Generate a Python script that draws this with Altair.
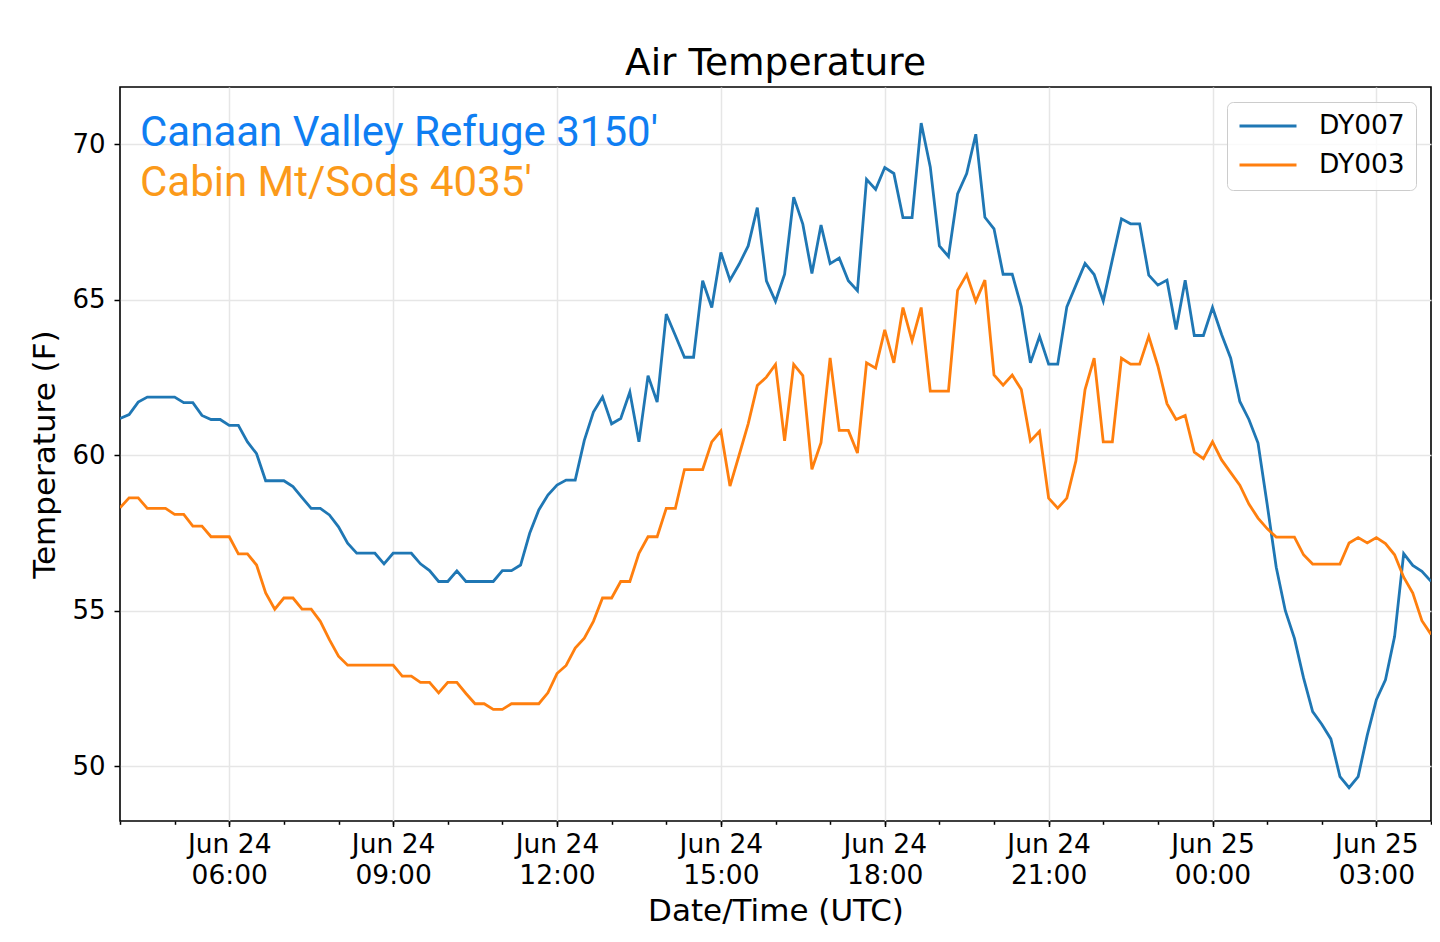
import altair as alt
import pandas as pd

# ---- data ----
START = "2019-06-24T04:00:00Z"
STEP = "10min"

dy007 = [
    61.18, 61.31, 61.71, 61.87, 61.87, 61.87, 61.87, 61.69, 61.69, 61.28,
    61.15, 61.15, 60.96, 60.96, 60.43, 60.05, 59.18, 59.18, 59.18, 58.99,
    58.64, 58.29, 58.29, 58.08, 57.70, 57.17, 56.85, 56.85, 56.85, 56.51,
    56.85, 56.85, 56.85, 56.51, 56.29, 55.94, 55.94, 56.28, 55.94, 55.94,
    55.94, 55.94, 56.29, 56.29, 56.47, 57.49, 58.24, 58.72, 59.04, 59.20,
    59.20, 60.48, 61.39, 61.87, 61.01, 61.18, 62.03, 60.43, 62.56, 61.71,
    64.54, 63.85, 63.15, 63.15, 65.61, 64.75, 66.52, 65.63, 66.14, 66.73,
    67.96, 65.61, 64.95, 65.82, 68.30, 67.43, 65.84, 67.40, 66.16, 66.34,
    65.61, 65.29, 68.87, 68.55, 69.25, 69.06, 67.64, 67.64, 70.68, 69.27,
    66.73, 66.39, 68.40, 69.06, 70.32, 67.65, 67.28, 65.82, 65.82, 64.77,
    62.97, 63.82, 62.93, 62.93, 64.77, 65.47, 66.17, 65.81, 64.96, 66.29,
    67.60, 67.44, 67.44, 65.79, 65.47, 65.63, 64.04, 65.63, 63.85, 63.85,
    64.75, 63.88, 63.12, 61.73, 61.15, 60.39, 58.43, 56.40, 55.00, 54.11,
    52.84, 51.76, 51.35, 50.88, 49.67, 49.31, 49.67, 51.00, 52.14, 52.78,
    54.17, 56.84, 56.46, 56.27, 55.95,
]

dy003 = [
    58.31, 58.63, 58.63, 58.29, 58.29, 58.29, 58.10, 58.10, 57.72, 57.72,
    57.38, 57.38, 57.38, 56.83, 56.83, 56.47, 55.57, 55.05, 55.41, 55.41,
    55.05, 55.05, 54.66, 54.07, 53.54, 53.25, 53.25, 53.25, 53.25, 53.25,
    53.25, 52.90, 52.90, 52.70, 52.70, 52.36, 52.70, 52.70, 52.34, 52.01,
    52.01, 51.83, 51.83, 52.01, 52.01, 52.01, 52.01, 52.36, 52.98, 53.24,
    53.80, 54.12, 54.66, 55.41, 55.41, 55.94, 55.94, 56.85, 57.38, 57.38,
    58.29, 58.29, 59.54, 59.54, 59.54, 60.43, 60.78, 59.01, 60.00, 61.01,
    62.24, 62.51, 62.92, 60.46, 62.92, 62.56, 59.55, 60.40, 63.13, 60.80,
    60.80, 60.07, 62.97, 62.80, 64.03, 62.97, 64.75, 63.68, 64.75, 62.06,
    62.06, 62.06, 65.30, 65.81, 64.95, 65.63, 62.58, 62.25, 62.58, 62.11,
    60.46, 60.77, 58.62, 58.30, 58.62, 59.82, 62.11, 63.12, 60.43, 60.43,
    63.12, 62.93, 62.93, 63.82, 62.87, 61.66, 61.15, 61.28, 60.10, 59.89,
    60.43, 59.85, 59.44, 59.04, 58.43, 57.98, 57.64, 57.37, 57.37, 57.37,
    56.80, 56.50, 56.50, 56.50, 56.50, 57.18, 57.35, 57.18, 57.35, 57.16,
    56.80, 56.08, 55.57, 54.68, 54.24,
]

series_names = ["DY007", "DY003"]
series_colors = ["#1f77b4", "#ff7f0e"]

annot_texts = ["Canaan Valley Refuge 3150'", "Cabin Mt/Sods 4035'"]
annot_colors = ["#0f7ef2", "#fb9a1a"]

x_range = ["2019-06-24T04:00:00Z", "2019-06-25T04:00:00Z"]
major_start = "2019-06-24T06:00:00Z"
major_end = "2019-06-25T03:00:00Z"
y_ticks = [50, 55, 60, 65, 70]
y_domain = [48.24, 71.84]


def ms(s):
    return int(pd.Timestamp(s).value // 10**6)


times = pd.date_range(START, periods=len(dy007), freq=STEP)
iso = list(times.strftime("%Y-%m-%dT%H:%M:%SZ"))

frames = []
for name, vals in zip(series_names, [dy007, dy003]):
    frames.append(pd.DataFrame({"time": iso, "temp": vals, "sensor": name}))
df = pd.concat(frames, ignore_index=True)

x_domain = [ms(x_range[0]), ms(x_range[1])]
major_ticks = [ms(t) for t in pd.date_range(major_start, major_end, freq="3h")]
minor_ticks = [ms(t) for t in pd.date_range(x_range[0], x_range[1], freq="1h")]

FONT = "DejaVu Sans"

x_scale = alt.Scale(type="utc", domain=x_domain, nice=False)
y_enc = alt.Y(
    "temp:Q",
    scale=alt.Scale(domain=y_domain, zero=False, nice=False),
    axis=alt.Axis(
        values=y_ticks,
        title="Temperature (F)",
        grid=True,
        tickSize=6,
        labelPadding=9,
        titlePadding=10,
        domain=False,
        labelFontSize=26,
        titleFontSize=31,
    ),
)

lines = (
    alt.Chart(df)
    .mark_line(strokeWidth=2.8, clip=True)
    .encode(
        x=alt.X(
            "time:T",
            scale=x_scale,
            axis=alt.Axis(
                values=major_ticks,
                orient="bottom",
                labelExpr="[utcFormat(datum.value, '%b %d'), utcFormat(datum.value, '%H:%M')]",
                title="Date/Time (UTC)",
                grid=True,
                tickSize=5.5,
                labelPadding=4.5,
                labelLineHeight=31.7,
                labelFontSize=26.5,
                titleFontSize=31,
                titlePadding=7.5,
                labelAlign="center",
                labelBaseline="top",
                labelFlush=False,
                labelOverlap=False,
                domain=False,
            ),
        ),
        y=y_enc,
        color=alt.Color(
            "sensor:N",
            scale=alt.Scale(domain=series_names, range=series_colors),
            sort=series_names,
            legend=alt.Legend(
                title=None,
                orient="top-right",
                offset=15,
                padding=11,
                clipHeight=26,
                symbolType="stroke",
                symbolSize=3249,
                symbolStrokeWidth=2.8,
                labelFontSize=26.5,
                labelFont=FONT,
                labelColor="black",
                labelOffset=21,
                rowPadding=12,
                strokeColor="#cccccc",
                fillColor="rgba(255,255,255,0.8)",
                cornerRadius=6,
            ),
        ),
    )
)

minor = (
    alt.Chart(df)
    .mark_line(opacity=0)
    .encode(
        x=alt.X(
            "time:T",
            scale=x_scale,
            axis=alt.Axis(
                values=minor_ticks,
                orient="bottom",
                labels=False,
                title="",
                grid=False,
                tickSize=3.3,
                domain=False,
            ),
        ),
        y=y_enc,
        detail="sensor:N",
    )
)

annot1 = (
    alt.Chart(pd.DataFrame({"t": [annot_texts[0]]}))
    .mark_text(align="left", baseline="alphabetic", font="Roboto",
               fontSize=42, color=annot_colors[0])
    .encode(x=alt.value(20), y=alt.value(59), text="t:N")
)
annot2 = (
    alt.Chart(pd.DataFrame({"t": [annot_texts[1]]}))
    .mark_text(align="left", baseline="alphabetic", font="Roboto",
               fontSize=42, color=annot_colors[1])
    .encode(x=alt.value(20), y=alt.value(108.5), text="t:N")
)

chart = (
    alt.layer(lines, minor, annot1, annot2)
    .resolve_axis(x="independent")
    .properties(
        width=1311,
        height=734,
        title=alt.TitleParams(
            "Air Temperature",
            font=FONT,
            fontSize=37.5,
            fontWeight="normal",
            color="black",
            anchor="middle",
            offset=5,
        ),
        autosize=alt.AutoSizeParams(type="none"),
        padding={"left": 112, "top": 79, "right": 1, "bottom": 110},
    )
    .configure_view(stroke="black", strokeWidth=1.6)
    .configure_axis(
        gridColor="#e6e6e6",
        gridWidth=1.5,
        tickColor="black",
        tickWidth=1.5,
        labelColor="black",
        titleColor="black",
        labelFont=FONT,
        titleFont=FONT,
        titleFontWeight="normal",
    )
)

chart.save("out.html", embed_options={"renderer": "svg", "actions": False})
